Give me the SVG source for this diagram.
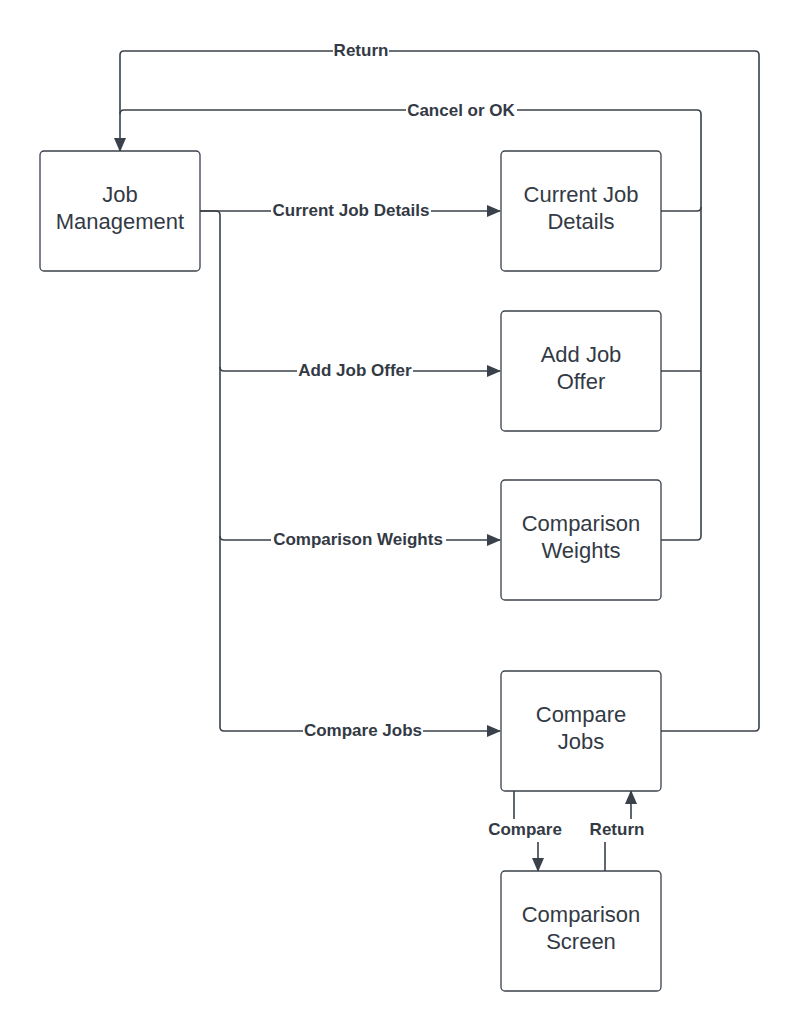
<svg xmlns="http://www.w3.org/2000/svg" width="801" height="1031" viewBox="0 0 801 1031">
<style>
.node rect{fill:#fff;stroke:#3a414a;stroke-width:1.3}
.node text{font-family:"Liberation Sans",Arial,sans-serif;font-size:22px;fill:#333a45;text-anchor:middle}
.c{fill:none;stroke:#3a414a;stroke-width:1.6}
.lbl{font-family:"Liberation Sans",Arial,sans-serif;font-size:17px;font-weight:bold;fill:#333a45;text-anchor:middle}
.bg{fill:#fff}
</style>
<defs>
<marker id="ah" markerWidth="14" markerHeight="12" refX="13" refY="6" orient="auto" markerUnits="userSpaceOnUse">
<path d="M0,0 L14,6 L0,12 Z" fill="#3a414a"/>
</marker>
</defs>
<rect width="801" height="1031" fill="#fff"/>
<g id="connectors">
<path class="c" d="M200,211 H216 Q220,211 220,215 V727 Q220,731 224,731 H500" marker-end="url(#ah)"/>
<path class="c" d="M200,211 H500" marker-end="url(#ah)"/>
<path class="c" d="M220,367 Q220,371 224,371 H500" marker-end="url(#ah)"/>
<path class="c" d="M220,536 Q220,540 224,540 H500" marker-end="url(#ah)"/>
<path class="c" d="M661,540 H697 Q701,540 701,536 V114 Q701,110 697,110 H124 Q120,110 120,114 V151" marker-end="url(#ah)"/>
<path class="c" d="M661,211 H697 Q701,211 701,207"/>
<path class="c" d="M661,371 H701"/>
<path class="c" d="M661,731 H755 Q759,731 759,727 V55 Q759,51 755,51 H124 Q120,51 120,55 V114"/>
<path class="c" d="M514,791 V829 H538 V871" marker-end="url(#ah)"/>
<path class="c" d="M605,871 V829 H631 V791" marker-end="url(#ah)"/>
<rect class="bg" x="333" y="42" width="56" height="17"/>
<text class="lbl" x="361" y="56">Return</text>
<rect class="bg" x="406" y="101" width="111" height="17"/>
<text class="lbl" x="461" y="116">Cancel or OK</text>
<rect class="bg" x="271" y="202" width="160" height="17"/>
<text class="lbl" x="351" y="216">Current Job Details</text>
<rect class="bg" x="297" y="362" width="116" height="17"/>
<text class="lbl" x="355" y="376">Add Job Offer</text>
<rect class="bg" x="271" y="531" width="175" height="17"/>
<text class="lbl" x="358" y="545">Comparison Weights</text>
<rect class="bg" x="303" y="722" width="120" height="17"/>
<text class="lbl" x="363" y="736">Compare Jobs</text>
<rect class="bg" x="484" y="819" width="82" height="23"/>
<text class="lbl" x="525" y="835">Compare</text>
<rect class="bg" x="586" y="819" width="62" height="23"/>
<text class="lbl" x="617" y="835">Return</text>
</g>
<g id="job-management" class="node">
<rect x="40" y="151" width="160" height="120" rx="4"/>
<text x="120" y="202">Job</text>
<text x="120" y="229">Management</text>
</g>
<g id="current-job-details" class="node">
<rect x="501" y="151" width="160" height="120" rx="4"/>
<text x="581" y="202">Current Job</text>
<text x="581" y="229">Details</text>
</g>
<g id="add-job-offer" class="node">
<rect x="501" y="311" width="160" height="120" rx="4"/>
<text x="581" y="362">Add Job</text>
<text x="581" y="389">Offer</text>
</g>
<g id="comparison-weights" class="node">
<rect x="501" y="480" width="160" height="120" rx="4"/>
<text x="581" y="531">Comparison</text>
<text x="581" y="558">Weights</text>
</g>
<g id="compare-jobs" class="node">
<rect x="501" y="671" width="160" height="120" rx="4"/>
<text x="581" y="722">Compare</text>
<text x="581" y="749">Jobs</text>
</g>
<g id="comparison-screen" class="node">
<rect x="501" y="871" width="160" height="120" rx="4"/>
<text x="581" y="922">Comparison</text>
<text x="581" y="949">Screen</text>
</g>
</svg>
